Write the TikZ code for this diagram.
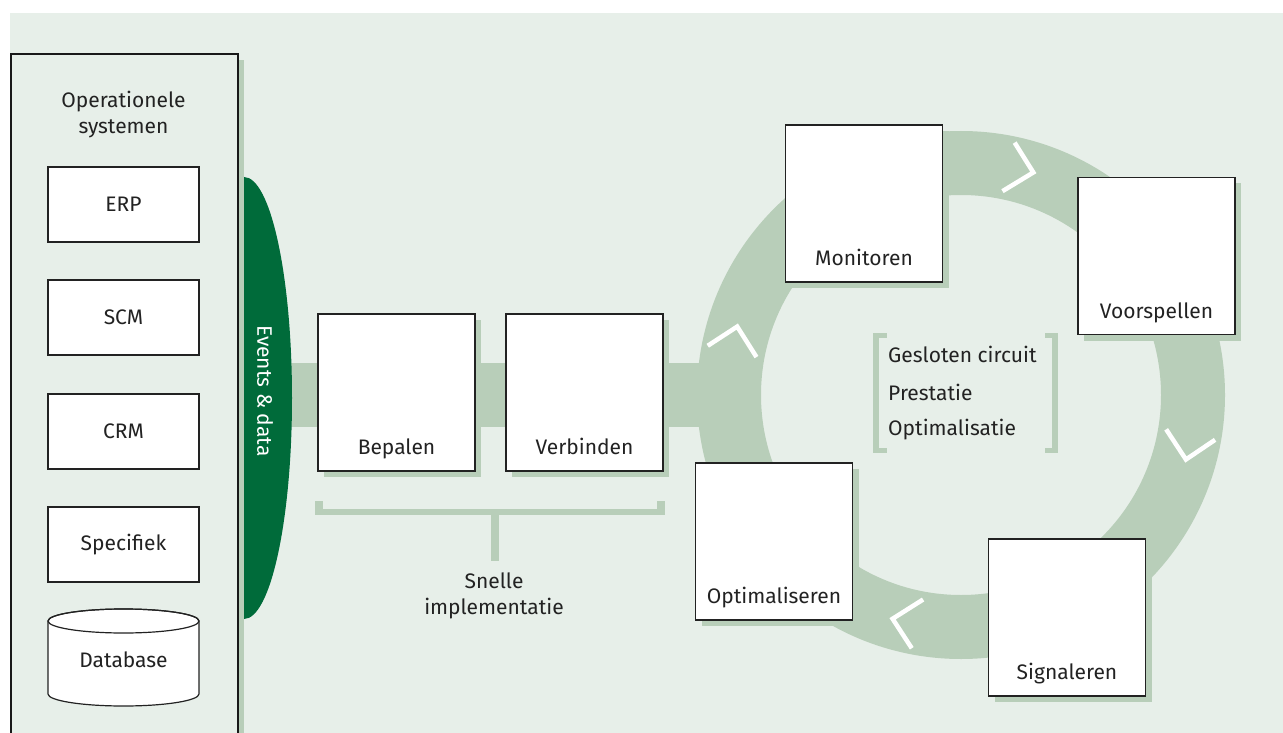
\documentclass[tikz,border=0pt]{standalone}
\usepackage{fontspec}
\setmainfont{Fira Sans}
\usepackage{xcolor}
\usetikzlibrary{positioning}

\definecolor{bgc}{HTML}{E7EFE9}
\definecolor{ringc}{HTML}{B8CEB9}
\definecolor{evgreen}{HTML}{006B3A}
\definecolor{txt}{HTML}{222222}

\begin{document}
\begin{tikzpicture}[
  x=1pt, y=-1pt,
  font=\fontsize{21}{26}\selectfont,
  every node/.style={align=center, inner sep=0pt, text=txt},
  panel/.style={draw=black!90, line width=2pt, fill=bgc, minimum width=227pt, minimum height=700pt, anchor=north west},
  sys/.style={draw=txt, line width=1.2pt, fill=white, minimum width=151pt, minimum height=75pt},
  stage/.style={draw=txt, line width=1.4pt, fill=white, minimum width=157pt, minimum height=157pt,
    preaction={fill=ringc, transform canvas={xshift=6pt, yshift=-6pt}}},
  steptext/.style={anchor=base, yshift=17pt},
  chev/.style={draw=white, line width=4.5pt, line join=miter},
  strip/.style={fill=ringc}
]
\useasboundingbox (0,0) rectangle (1283,733);
\fill[bgc] (10,13) rectangle (1283,733);

% ring and feed band
\fill[ringc, even odd rule] (961,395) circle[radius=264] (961,395) circle[radius=200];
\fill[strip] (244,363) rectangle (725,427);

% operational systems
\fill[strip] (237,60) rectangle (244,740);
\node[panel] (ops) at (10,53) {};
\node (opstitle) at (123.5,115) {Operationele\\systemen};
\node[sys] (erp) at (123.5,204.5) {ERP};
\node[sys] (scm) at (123.5,317.5) {SCM};
\node[sys] (crm) at (123.5,431.5) {CRM};
\node[sys] (spec) at (123.5,544.5) {Specifiek};
\draw[draw=txt, line width=1.2pt, fill=white] (48,621) -- (48,694)
  arc[start angle=180, end angle=0, x radius=75.5, y radius=12] -- (199,621)
  arc[start angle=0, end angle=-180, x radius=75.5, y radius=12] -- cycle;
\draw[draw=txt, line width=1.2pt] (123.5,621) ellipse[x radius=75.5, y radius=12];
\node (db) at (123.5,660) {Database};

% events
\fill[evgreen] (244,177) arc[start angle=-90, end angle=90, x radius=48, y radius=221] -- cycle;
\node[rotate=-90, text=white] (ev) at (265,391) {Events \& data};

% implementation steps
\node[stage, label={[steptext]south:Bepalen}] (bep) at (396.5,392.5) {};
\node[stage, label={[steptext]south:Verbinden}] (verb) at (584.5,392.5) {};
\fill[strip] (315,509) rectangle (665,515);
\fill[strip] (315,501) rectangle (323,515);
\fill[strip] (657,501) rectangle (665,515);
\fill[strip] (491,515) rectangle (499,561);
\node (snel) at (494,596) {Snelle\\implementatie};

% cycle
\node[stage, label={[steptext]south:Monitoren}] (mon) at (864,203.5) {};
\node[stage, label={[steptext]south:Voorspellen}] (voor) at (1156.5,256) {};
\node[stage, label={[steptext]south:Signaleren}] (sig) at (1067,617.5) {};
\node[stage, label={[steptext]south:Optimaliseren}] (opt) at (774,541.5) {};

\begin{scope}[shift={(961,395)}]
  \foreach \a in {-72,16,107,197} {
    \pgfmathsetmacro\ao{\a-6}
    \pgfmathsetmacro\ai{\a-6.5}
    \draw[chev] (\ao:258) -- (\a:234) -- (\ai:208);
  }
\end{scope}

% closed loop bracket
\fill[strip] (873,333) rectangle (879,453);
\fill[strip] (873,333) rectangle (887,338);
\fill[strip] (873,448) rectangle (887,453);
\fill[strip] (1052,333) rectangle (1058,453);
\fill[strip] (1045,333) rectangle (1058,338);
\fill[strip] (1045,448) rectangle (1058,453);
\node[anchor=west] (gc) at (888,354) {Gesloten circuit};
\node[anchor=west] (pr) at (888,392) {Prestatie};
\node[anchor=west] (op) at (888,430) {Optimalisatie};
\end{tikzpicture}
\end{document}
